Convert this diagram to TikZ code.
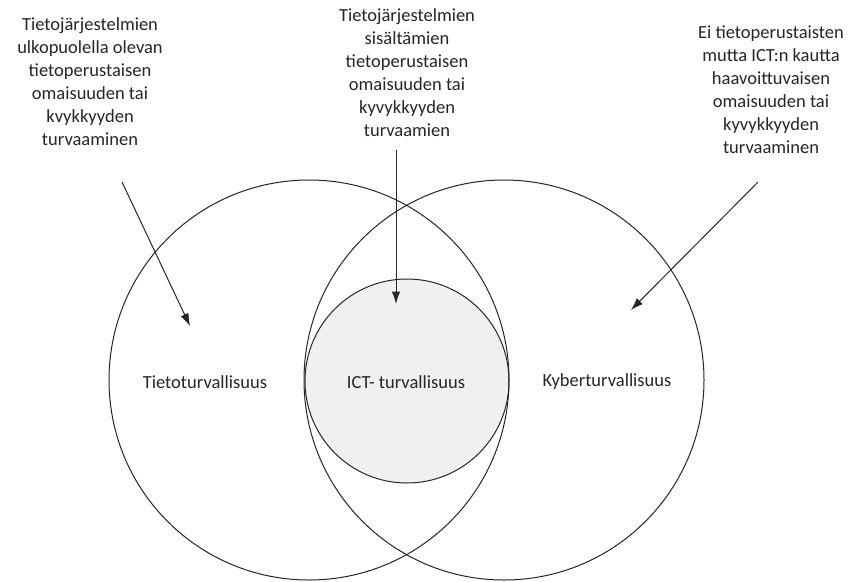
\documentclass[tikz,border=0pt]{standalone}
\usepackage{fontspec}
\setmainfont{Carlito}
\usetikzlibrary{arrows.meta}
\begin{document}
\begin{tikzpicture}[x=1pt,y=-1pt,
  ring/.style={circle,draw=black!85,line width=1pt,inner sep=0pt},
  lbl/.style={align=center,font=\fontsize{18.5}{23}\selectfont,text=black!85,inner sep=0pt},
  arr/.style={draw=black!85,line width=1pt,-{Latex[length=12.5pt,width=8.5pt]}}]
\useasboundingbox[fill=white] (0,0) rectangle (848,581);
% gray inner circle fill
\node[circle,fill=black!6,minimum size=204pt,inner sep=0pt] (Cfill) at (407,381) {};
\node[ring,minimum size=400pt] (L) at (309,380) {};
\node[ring,minimum size=400pt] (R) at (504,380) {};
\node[ring,minimum size=204pt] (C) at (407,381) {};
% circle labels
\node[lbl] (tt) at (205,382) {Tietoturvallisuus};
\node[lbl] (ict) at (406,382) {ICT- turvallisuus};
\node[lbl] (kt) at (607,382) {Kyberturvallisuus};
% top texts
\node[lbl] (t1) at (90,82) {Tietojärjestelmien\\ulkopuolella olevan\\tietoperustaisen\\omaisuuden tai\\kvykkyyden\\turvaaminen};
\node[lbl] (t2) at (407,73) {Tietojärjestelmien\\sisältämien\\tietoperustaisen\\omaisuuden tai\\kyvykkyyden\\turvaamien};
\node[lbl] (t3) at (771,90) {Ei tietoperustaisten\\mutta ICT:n kautta\\haavoittuvaisen\\omaisuuden tai\\kyvykkyyden\\turvaaminen};
% arrows
\coordinate (a1s) at (122,182);
\coordinate (a1e) at (190,326);
\coordinate (a2s) at (396,150);
\coordinate (a2e) at (396,304);
\coordinate (a3s) at (758,182);
\coordinate (a3e) at (631,310);
\draw[arr] (a1s) -- (a1e);
\draw[arr] (a2s) -- (a2e);
\draw[arr] (a3s) -- (a3e);
\end{tikzpicture}
\end{document}
